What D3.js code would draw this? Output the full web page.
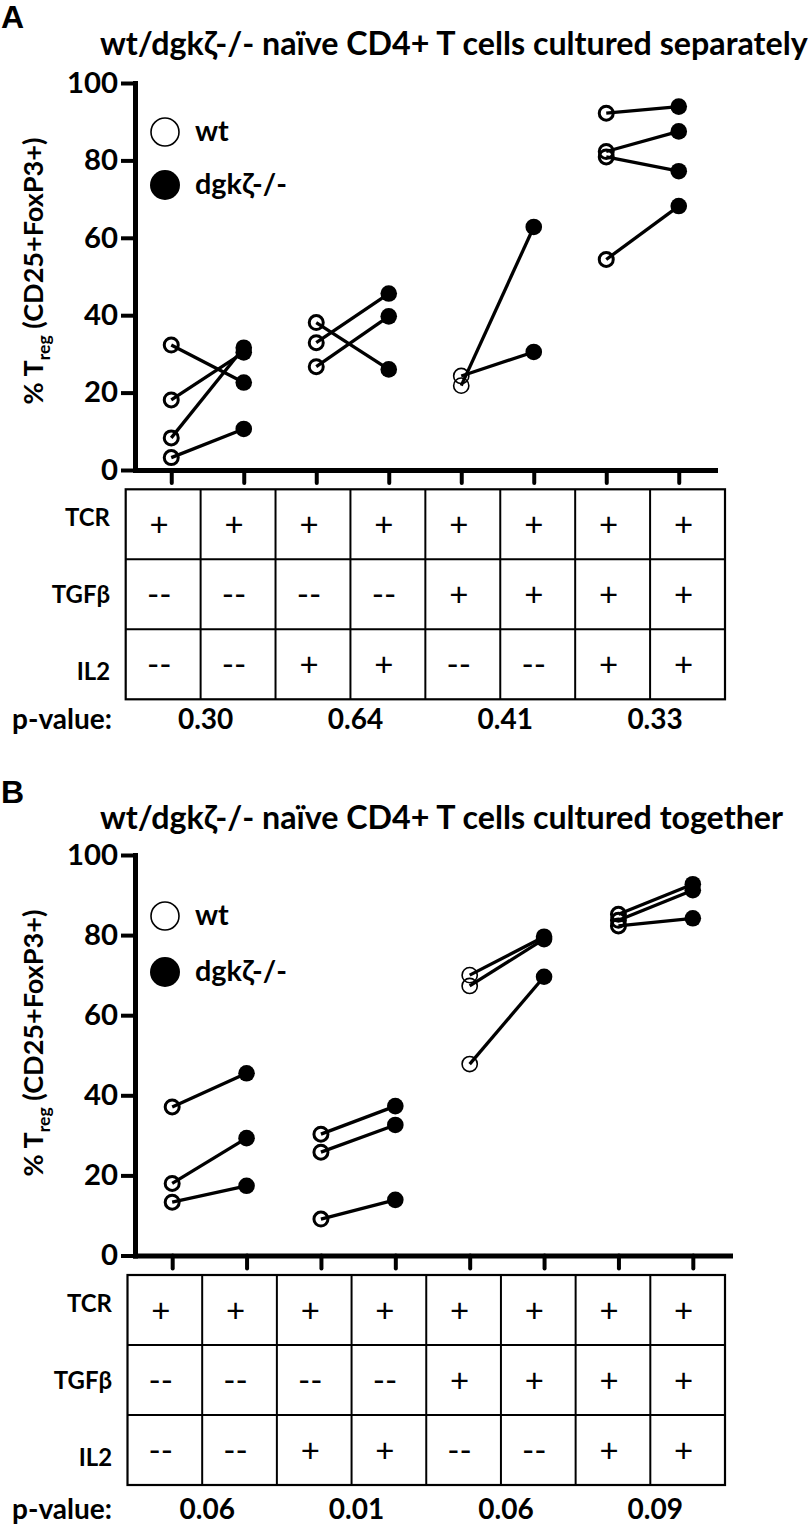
<!DOCTYPE html>
<html><head><meta charset="utf-8">
<script src="https://cdn.jsdelivr.net/npm/d3@7"></script>
<style>body{margin:0;background:#fff} svg{display:block}</style>
</head><body>
<svg id="chart" width="812" height="1527"></svg>
<script>
// ---------- data ----------
const categories = ["wt-1","dgk-1","wt-2","dgk-2","wt-3","dgk-3","wt-4","dgk-4"];
const yTicks = [0, 20, 40, 60, 80, 100];
const rowLabels = ["TCR", "TGFβ", "IL2"];
const tcrRow  = ["+","+","+","+","+","+","+","+"];
const tgfbRow = ["--","--","--","--","+","+","+","+"];
const il2Row  = ["--","--","+","+","--","--","+","+"];
const legendLabels = ["wt", "dgkζ-/-"];
const yTitleMain = "% T", yTitleSub = "reg", yTitleRest = " (CD25+FoxP3+)";

const titleA = "wt/dgkζ-/- naïve CD4+ T cells cultured separately";
const wtA  = [[32.3, 18.1, 8.3, 3.2], [38.1, 32.9, 26.7], [21.8, 24.3], [92.2, 82.3, 80.9, 54.4]];
const dgkA = [[22.6, 30.4, 31.6, 10.6], [26.0, 45.6, 39.7], [62.8, 30.5], [93.9, 87.5, 77.2, 68.2]];
const pA = ["0.30", "0.64", "0.41", "0.33"];

const titleB = "wt/dgkζ-/- naïve CD4+ T cells cultured together";
const wtB  = [[37.1, 18.0, 13.3], [30.3, 25.8, 9.1], [70.0, 67.3, 47.8], [85.2, 83.7, 82.3]];
const dgkB = [[45.5, 29.3, 17.4], [37.3, 32.6, 13.9], [79.6, 79.0, 69.6], [92.7, 91.2, 84.2]];
const pB = ["0.06", "0.01", "0.06", "0.09"];

// ---------- drawing ----------
const svg = d3.select("#chart");
const FONT = "Lato, 'Open Sans', 'DejaVu Sans', sans-serif";
const LETTER_FONT = "'Liberation Sans', Arial, sans-serif";

function fit(str, weight, target, family = FONT) {
  const t = svg.append("text").attr("font-family", family).attr("font-weight", weight)
    .attr("font-size", 100).text(str);
  const w = t.node().getComputedTextLength();
  t.remove();
  return 100 * target / w;
}
const titleFS = fit(titleA, 700, 708);
const tickFS = fit("80", 700, 34);
const rowFS = fit("TCR", 700, 45);
const pFS = fit("p-value:", 700, 100);
const legFS = fit("dgkζ-/-", 700, 92);
const markFS = 33;

const wtStroke = [3, 3, 1.6, 3];

function panel(cfg) {
  const g = svg.append("g");
  // panel letter
  g.append("text").attr("x", 1).attr("y", cfg.letterY)
    .attr("font-family", LETTER_FONT).attr("font-weight", 700).attr("font-size", 32)
    .text(cfg.letter);
  // title
  g.append("text").attr("x", 100).attr("y", cfg.titleY)
    .attr("font-family", FONT).attr("font-weight", 700).attr("font-size", titleFS)
    .text(cfg.title);

  const x = d3.scalePoint().domain(categories).range(cfg.xRange).padding(0.5);
  const y = d3.scaleLinear().domain([0, 100]).range([cfg.y0, cfg.y100]);

  // y axis
  const ya = g.append("g").attr("transform", `translate(${cfg.xRange[0]},0)`)
    .call(d3.axisLeft(y).tickValues(yTicks).tickSize(14).tickSizeOuter(0).tickPadding(3));
  ya.select(".domain").attr("stroke-width", 5).attr("stroke-linecap", "square");
  ya.selectAll(".tick line").attr("stroke-width", 4);
  ya.selectAll(".tick text").attr("font-family", FONT).attr("font-weight", 700)
    .attr("font-size", tickFS).attr("fill", "#000");

  // x axis
  const xa = g.append("g").attr("transform", `translate(0,${cfg.y0})`)
    .call(d3.axisBottom(x).tickSize(13).tickSizeOuter(0).tickFormat(""));
  xa.select(".domain").attr("stroke-width", 5).attr("stroke-linecap", "square");
  xa.selectAll(".tick line").attr("stroke-width", 4).attr("stroke-linecap", "round");

  // y title
  const yt = g.append("text")
    .attr("transform", `translate(43,${cfg.yTitleY}) rotate(-90)`)
    .attr("text-anchor", "middle").attr("font-family", FONT).attr("font-weight", 700)
    .attr("font-size", 26);
  yt.append("tspan").text(yTitleMain);
  yt.append("tspan").attr("dy", 7).attr("font-size", "65%").text(yTitleSub);
  yt.append("tspan").attr("dy", -7).text(yTitleRest);
  const yw = yt.node().getComputedTextLength();
  yt.attr("font-size", 26 * 267 / yw);

  // legend
  g.append("circle").attr("cx", 165).attr("cy", cfg.legendY[0]).attr("r", 14)
    .attr("fill", "#fff").attr("stroke", "#000").attr("stroke-width", 1.6);
  g.append("circle").attr("cx", 165).attr("cy", cfg.legendY[1]).attr("r", 15).attr("fill", "#000");
  legendLabels.forEach((l, i) => {
    g.append("text").attr("x", 195).attr("y", cfg.legendY[i] + 9)
      .attr("font-family", FONT).attr("font-weight", 700).attr("font-size", legFS).text(l);
  });

  // data
  const pairs = [];
  cfg.wt.forEach((arr, gi) => arr.forEach((v, k) => pairs.push({
    g: gi, x1: x(categories[2 * gi]), y1: y(v), x2: x(categories[2 * gi + 1]), y2: y(cfg.dgk[gi][k])
  })));
  g.selectAll(".pl").data(pairs).join("line")
    .attr("x1", d => d.x1).attr("y1", d => d.y1).attr("x2", d => d.x2).attr("y2", d => d.y2)
    .attr("stroke", "#000").attr("stroke-width", 3.3);
  g.selectAll(".wt").data(pairs).join("circle")
    .attr("cx", d => d.x1).attr("cy", d => d.y1).attr("r", d => wtStroke[d.g] < 2 ? 7.6 : 7)
    .attr("fill", "none").attr("stroke", "#000").attr("stroke-width", d => wtStroke[d.g]);
  g.selectAll(".dg").data(pairs).join("circle")
    .attr("cx", d => d.x2).attr("cy", d => d.y2).attr("r", 8.3).attr("fill", "#000");

  // table
  const tx = d3.scaleBand().domain(categories).range([cfg.tableLeft, cfg.tableRight]);
  const rows = [tcrRow, tgfbRow, il2Row];
  const ty = d3.scaleBand().domain(rowLabels).range([cfg.tableTop, cfg.tableTop + 3 * cfg.rowH]);
  const tb = g.append("g");
  tb.append("rect").attr("x", cfg.tableLeft).attr("y", cfg.tableTop)
    .attr("width", cfg.tableRight - cfg.tableLeft).attr("height", 3 * cfg.rowH)
    .attr("fill", "none").attr("stroke", "#000").attr("stroke-width", 2.2);
  categories.slice(1).forEach(c => tb.append("line")
    .attr("x1", tx(c)).attr("x2", tx(c)).attr("y1", cfg.tableTop).attr("y2", cfg.tableTop + 3 * cfg.rowH)
    .attr("stroke", "#000").attr("stroke-width", 2));
  rowLabels.slice(1).forEach(r => tb.append("line")
    .attr("x1", cfg.tableLeft).attr("x2", cfg.tableRight).attr("y1", ty(r)).attr("y2", ty(r))
    .attr("stroke", "#000").attr("stroke-width", 2));
  rows.forEach((row, ri) => {
    row.forEach((m, ci) => {
      tb.append("text").attr("x", tx(categories[ci]) + tx.bandwidth() / 2 - 4)
        .attr("y", ty(rowLabels[ri]) + ty.bandwidth() / 2)
        .attr("dy", "0.35em").attr("text-anchor", "middle")
        .attr("font-family", FONT).attr("font-weight", 400).attr("font-size", markFS)
        .text(m);
    });
    tb.append("text").attr("x", cfg.rowLabelX)
      .attr("y", ty(rowLabels[1]) + ty.bandwidth() / 2 + (ri - 1) * 77 + 9)
      .attr("text-anchor", "end").attr("font-family", FONT).attr("font-weight", 700)
      .attr("font-size", rowFS).text(rowLabels[ri]);
  });
  // p-values
  g.append("text").attr("x", 112).attr("y", cfg.pBaseline).attr("text-anchor", "end")
    .attr("font-family", FONT).attr("font-weight", 700).attr("font-size", pFS).text("p-value:");
  cfg.p.forEach((p, i) => {
    g.append("text").attr("x", tx(categories[2 * i + 1]) + 5).attr("y", cfg.pBaseline)
      .attr("text-anchor", "middle").attr("font-family", FONT).attr("font-weight", 700)
      .attr("font-size", pFS).text(p);
  });
}

panel({
  letter: "A", letterY: 28, title: titleA, titleY: 55,
  wt: wtA, dgk: dgkA, p: pA,
  y0: 470, y100: 83, xRange: [135, 715],
  yTitleY: 271, legendY: [132, 185],
  tableLeft: 125.7, tableRight: 725, tableTop: 489.3, rowH: 70, rowLabelX: 110,
  pBaseline: 729
});
panel({
  letter: "B", letterY: 803, title: titleB, titleY: 829,
  wt: wtB, dgk: dgkB, p: pB,
  y0: 1255.5, y100: 855, xRange: [135, 730],
  yTitleY: 1043, legendY: [916, 972],
  tableLeft: 127.5, tableRight: 725, tableTop: 1275, rowH: 70, rowLabelX: 112,
  pBaseline: 1519
});
</script>
</body></html>
